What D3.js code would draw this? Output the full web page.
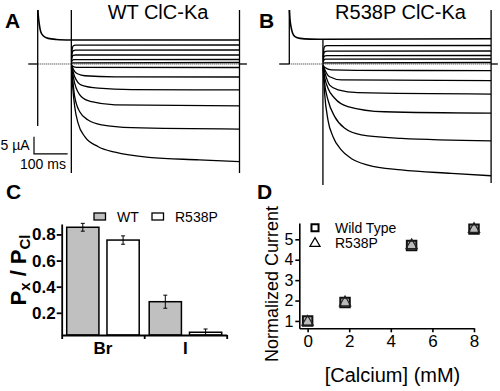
<!DOCTYPE html>
<html><head><meta charset="utf-8">
<script src="https://cdn.jsdelivr.net/npm/d3@7"></script>
<style>
html,body{margin:0;padding:0;background:#fff}
svg{display:block}
text{font-family:"Liberation Sans",Arial,Helvetica,sans-serif;fill:#000}
</style></head>
<body><svg id="fig" width="500" height="391"></svg>
<script>
// ---------------- DATA ----------------
// Panels A/B: current traces, [time (ms), current (µA)]
const prepulseA = [[0.5,15.6],[2.5,13.2],[5,11.3],[9,9.3],[17,8.1],[31,7.4],[56,7.1],[100,6.94]];
const tracesA = [
  [[100,6.94],[600,6.94]],
  [[100.5,2.2],[103,4.6],[106,5.25],[112,5.45],[600,5.49]],
  [[100.5,1.6],[103,3.4],[106,3.85],[112,4.0],[600,4.05]],
  [[100.5,1.0],[103,2.2],[106,2.5],[112,2.6],[600,2.6]],
  [[100.5,0.5],[103,1.05],[107,1.25],[600,1.3]],
  [[100.5,0.15],[104,0.35],[600,0.43]],
  [[100.5,-0.3],[106,-0.75],[115,-0.95],[600,-1.01]],
  [[100.5,-0.4],[110,-2.2],[120,-2.9],[140,-3.4],[230,-3.7],[600,-3.76]],
  [[100.5,-0.5],[110,-3.7],[130,-6.1],[180,-7.0],[280,-7.4],[600,-7.5]],
  [[100.5,-0.6],[110,-5.6],[130,-9.45],[160,-10.9],[230,-11.8],[600,-12.1]],
  [[100.5,-0.8],[110,-9.45],[125,-13.8],[150,-16.2],[190,-17.6],[280,-18.4],[600,-18.8]],
  [[100.5,-1.0],[104,-6.6],[110,-12.3],[120,-17.1],[140,-21.0],[180,-23.9],[230,-25.5],[330,-27.0],[480,-27.7],[600,-28.2]]
];
// capacitive transients: [time, top current, bottom current]
const capA = [[0,15.6,-17.9],[100,15.6,-31.5],[600,15.6,-31.5]];
const zeroTicksA = [[-28,0],[600,622]];

const prepulseB = [[0.5,15.6],[2,13],[5,10.8],[10,8.9],[17,7.9],[32,7.4],[62,7.2],[100,7.15]];
const tracesB = [
  [[100,7.15],[600,7.3]],
  [[100.5,2.0],[103,4.5],[106,5.15],[112,5.3],[600,5.35]],
  [[100.5,1.4],[103,3.2],[106,3.6],[112,3.72],[600,3.76]],
  [[100.5,0.9],[103,2.1],[106,2.35],[112,2.44],[600,2.46]],
  [[100.5,0.5],[103,1.15],[107,1.38],[600,1.45]],
  [[100.5,0.15],[104,0.35],[600,0.43]],
  [[100.5,-0.3],[105,-0.95],[125,-1.7],[200,-1.85],[600,-1.9]],
  [[100.5,-0.4],[105,-1.5],[120,-3.7],[155,-4.6],[600,-4.8]],
  [[100.5,-0.5],[105,-2.2],[120,-6.1],[145,-7.5],[204,-8.3],[600,-8.7]],
  [[100.5,-0.6],[105,-3.7],[115,-7.0],[135,-9.9],[174,-12.3],[283,-13.8],[600,-14.2]],
  [[100.5,-0.8],[105,-5.6],[115,-10.4],[135,-15.2],[165,-18.6],[214,-20.5],[333,-21.5],[600,-22.2]],
  [[100.5,-1.2],[105,-8.5],[115,-16.2],[130,-21.0],[155,-24.9],[184,-27.3],[234,-29.2],[333,-30.6],[482,-31.6],[600,-32.3]]
];
const capB = [[0,15.6,0],[100,7.15,-35],[600,15.6,-34.4]];
const zeroTicksB = [[-30,0],[600,620]];

// scale bar: 100 ms, 5 µA
const scaleBarTime = 100, scaleBarCurrent = 5;

// Panel C: relative permeability
const ions = ["Br","I"];
const groups = ["WT","R538P"];
const wtPerm = [0.855, 0.285];
const wtPermErr = [0.03, 0.05];
const r538pPerm = [0.757, 0.051];
const r538pPermErr = [0.032, 0.025];
const yTicksC = [0.2, 0.4, 0.6, 0.8];

// Panel D: calcium dependence
const calcium = [0, 1.8, 5, 8];
const wtCurrent = [1.0, 1.9, 4.7, 5.5];
const wtCurrentErr = [0.05, 0.1, 0.12, 0.1];
const r538pCurrent = [1.0, 1.95, 4.75, 5.55];
const r538pCurrentErr = [0.05, 0.1, 0.1, 0.1];
const xTicksD = [0, 2, 4, 6, 8];
const yTicksD = [1, 2, 3, 4, 5];

// ---------------- DRAW ----------------
const svg = d3.select("#fig");

function tracePanel(x0, prepulse, traces, caps, zeroTicks, withScaleBar) {
  const x = d3.scaleLinear().domain([0, 600]).range([x0, x0 + 201.8]);
  const y = d3.scaleLinear().domain([-35, 15.6]).range([185.1, 10.02]);
  const g = svg.append("g");
  const line = d3.line().x(d => x(d[0])).y(d => y(d[1])).curve(d3.curveMonotoneX);
  zeroTicks.forEach(z => g.append("line")
    .attr("x1", x(z[0])).attr("x2", x(z[1])).attr("y1", y(0)).attr("y2", y(0))
    .attr("stroke", "#000").attr("stroke-width", 1.3));
  g.append("line").attr("x1", x(0)).attr("x2", x(600)).attr("y1", y(0)).attr("y2", y(0))
    .attr("stroke", "#222").attr("stroke-width", 1).attr("stroke-dasharray", "1,1");
  caps.forEach(c => g.append("line")
    .attr("x1", x(c[0])).attr("x2", x(c[0])).attr("y1", y(c[1])).attr("y2", y(c[2]))
    .attr("stroke", "#000").attr("stroke-width", 1.3));
  g.append("path").attr("d", line(prepulse)).attr("fill", "none")
    .attr("stroke", "#000").attr("stroke-width", 1.6);
  g.selectAll("path.tr").data(traces).join("path").attr("class", "tr")
    .attr("d", line).attr("fill", "none").attr("stroke", "#000").attr("stroke-width", 1.3);
  if (withScaleBar) {
    const t0 = -11, i0 = -26;
    g.append("path")
      .attr("d", `M${x(t0)},${y(i0 + scaleBarCurrent)}V${y(i0)}H${x(t0 + scaleBarTime)}`)
      .attr("fill", "none").attr("stroke", "#000").attr("stroke-width", 1.2);
    g.append("text").attr("x", 0.5).attr("y", 150).attr("font-size", 14).text(scaleBarCurrent + " µA");
    g.append("text").attr("x", 20).attr("y", 168.5).attr("font-size", 14).text(scaleBarTime + " ms");
  }
}
tracePanel(37.7, prepulseA, tracesA, capA, zeroTicksA, true);
tracePanel(289.3, prepulseB, tracesB, capB, zeroTicksB, false);

svg.append("text").attr("x", 158).attr("y", 19).attr("text-anchor", "middle").attr("font-size", 20).text("WT ClC-Ka");
svg.append("text").attr("x", 400.5).attr("y", 19).attr("text-anchor", "middle").attr("font-size", 20).text("R538P ClC-Ka");

// panel letters
[["A",5,28],["B",259,28],["C",6,199],["D",257,199]].forEach(p =>
  svg.append("text").attr("x", p[1]).attr("y", p[2]).attr("font-size", 21)
    .attr("font-weight", "bold").text(p[0]));

// ---- Panel C ----
(function(){
  const yC = d3.scaleLinear().domain([0.03, 0.88]).range([335, 224]);
  const xC = d3.scaleBand().domain(ions).range([61.7, 226.7]);
  const xSub = d3.scaleBand().domain(groups).range([5, xC.bandwidth() - 5]).paddingInner(0.2);
  const xLin = d3.scaleLinear().domain([0, ions.length]).range(xC.range());
  const fills = {WT: "#c0c0c0", R538P: "#ffffff"};
  const rows = [];
  ions.forEach((ion, i) => {
    rows.push({ion, grp: "WT", v: wtPerm[i], e: wtPermErr[i]});
    rows.push({ion, grp: "R538P", v: r538pPerm[i], e: r538pPermErr[i]});
  });
  const g = svg.append("g");
  g.selectAll("rect.bar").data(rows).join("rect").attr("class", "bar")
    .attr("x", d => xC(d.ion) + xSub(d.grp)).attr("width", xSub.bandwidth())
    .attr("y", d => yC(d.v)).attr("height", d => yC(0.03) - yC(d.v))
    .attr("fill", d => fills[d.grp]).attr("stroke", "#000").attr("stroke-width", 1.5);
  const eb = g.selectAll("g.eb").data(rows).join("g").attr("class", "eb");
  eb.append("line").attr("x1", d => xC(d.ion) + xSub(d.grp) + xSub.bandwidth()/2)
    .attr("x2", d => xC(d.ion) + xSub(d.grp) + xSub.bandwidth()/2)
    .attr("y1", d => yC(d.v + d.e)).attr("y2", d => yC(Math.max(0.03, d.v - d.e)))
    .attr("stroke", "#000").attr("stroke-width", 1);
  [1, -1].forEach(s => eb.filter(d => s > 0 || d.v - d.e > 0.03).append("line")
    .attr("x1", d => xC(d.ion) + xSub(d.grp) + xSub.bandwidth()/2 - 2)
    .attr("x2", d => xC(d.ion) + xSub(d.grp) + xSub.bandwidth()/2 + 2)
    .attr("y1", d => yC(d.v + s*d.e)).attr("y2", d => yC(d.v + s*d.e))
    .attr("stroke", "#000").attr("stroke-width", 1));
  const ya = g.append("g").attr("transform", "translate(61.7,0)")
    .call(d3.axisLeft(yC).tickValues(yTicksC).tickSize(5).tickSizeOuter(0).tickPadding(1).tickFormat(d3.format(".1f")));
  ya.selectAll("text").attr("font-size", 17).attr("font-weight", "bold").attr("font-family", null);
  const xa = g.append("g").attr("transform", "translate(0,335)")
    .call(d3.axisBottom(xLin).tickValues(d3.range(ions.length + 1)).tickSize(4).tickSizeOuter(0).tickFormat(""));
  [ya, xa].forEach(a => { a.selectAll("path,line").attr("stroke", "#000").attr("stroke-width", 1.8); });
  g.selectAll("text.xl").data(ions).join("text").attr("class", "xl")
    .attr("x", d => xC(d) + xC.bandwidth()/2).attr("y", 353.5).attr("text-anchor", "middle")
    .attr("font-size", 17).attr("font-weight", "bold").text(d => d);
  const yl = g.append("text").attr("transform", "translate(26,270) rotate(-90)")
    .attr("text-anchor", "middle").attr("font-size", 22).attr("font-weight", "bold");
  yl.append("tspan").text("P");
  yl.append("tspan").attr("dy", 4).attr("font-size", 15).text("x");
  yl.append("tspan").attr("dy", -4).text(" / P");
  yl.append("tspan").attr("dy", 4).attr("font-size", 15).text("Cl");
  const lg = [[94, 117, "WT"], [152, 175, "R538P"]];
  lg.forEach(l => {
    g.append("rect").attr("x", l[0]).attr("y", 213).attr("width", 11.5).attr("height", 7)
      .attr("fill", fills[l[2]]).attr("stroke", "#000").attr("stroke-width", 1.3);
    g.append("text").attr("x", l[1]).attr("y", 221.5).attr("font-size", 14).text(l[2]);
  });
})();

// ---- Panel D ----
(function(){
  const xD = d3.scaleLinear().domain([-0.4, 8]).range([299.3, 474]);
  const yD = d3.scaleLinear().domain([0.64, 5.8]).range([328.3, 223]);
  const g = svg.append("g");
  const xa = g.append("g").attr("transform", "translate(0,328.3)")
    .call(d3.axisBottom(xD).tickValues(xTicksD).tickSize(4).tickSizeOuter(0).tickPadding(3).tickFormat(d3.format("d")));
  xa.selectAll("text").attr("font-size", 17).attr("font-family", null);
  const ya = g.append("g").attr("transform", "translate(299.3,0)")
    .call(d3.axisLeft(yD).tickValues(yTicksD).tickSize(4).tickSizeOuter(0).tickPadding(2).tickFormat(d3.format("d")));
  ya.selectAll("text").attr("font-size", 16).attr("font-family", null);
  [xa, ya].forEach(a => a.selectAll("path,line").attr("stroke", "#000").attr("stroke-width", 1.6));

  const sq = d3.symbol().type(d3.symbolSquare).size(90);
  const tri = d3.symbol().type(d3.symbolTriangle).size(55);
  const errs = [];
  calcium.forEach((c, i) => {
    errs.push([c, wtCurrent[i], wtCurrentErr[i]]);
    errs.push([c, r538pCurrent[i], r538pCurrentErr[i]]);
  });
  g.selectAll("line.err").data(errs).join("line").attr("class", "err")
    .attr("x1", d => xD(d[0])).attr("x2", d => xD(d[0]))
    .attr("y1", d => yD(d[1] + d[2])).attr("y2", d => yD(d[1] - d[2]))
    .attr("stroke", "#000").attr("stroke-width", 1);
  g.selectAll("path.wt").data(calcium).join("path").attr("class", "wt")
    .attr("transform", (d, i) => `translate(${xD(d)},${yD(wtCurrent[i])})`)
    .attr("d", sq).attr("fill", "#bbb").attr("stroke", "#111").attr("stroke-width", 2);
  g.selectAll("path.r5").data(calcium).join("path").attr("class", "r5")
    .attr("transform", (d, i) => `translate(${xD(d)},${yD(r538pCurrent[i]) + 1})`)
    .attr("d", tri).attr("fill", "none").attr("stroke", "#222").attr("stroke-width", 1.2);
  g.append("path").attr("transform", "translate(315,227.7)").attr("d", d3.symbol().type(d3.symbolSquare).size(50))
    .attr("fill", "#fff").attr("stroke", "#000").attr("stroke-width", 2);
  g.append("path").attr("transform", "translate(315,243.5)").attr("d", d3.symbol().type(d3.symbolTriangle).size(45))
    .attr("fill", "#fff").attr("stroke", "#000").attr("stroke-width", 1.2);
  g.append("text").attr("x", 335).attr("y", 232.5).attr("font-size", 14).text("Wild Type");
  g.append("text").attr("x", 335).attr("y", 248).attr("font-size", 14).text("R538P");
  g.append("text").attr("transform", "translate(278,284) rotate(-90)").attr("text-anchor", "middle")
    .attr("font-size", 18).text("Normalized Current");
  g.append("text").attr("x", 392.5).attr("y", 382).attr("text-anchor", "middle")
    .attr("font-size", 20).text("[Calcium] (mM)");
})();
</script>
</body></html>
